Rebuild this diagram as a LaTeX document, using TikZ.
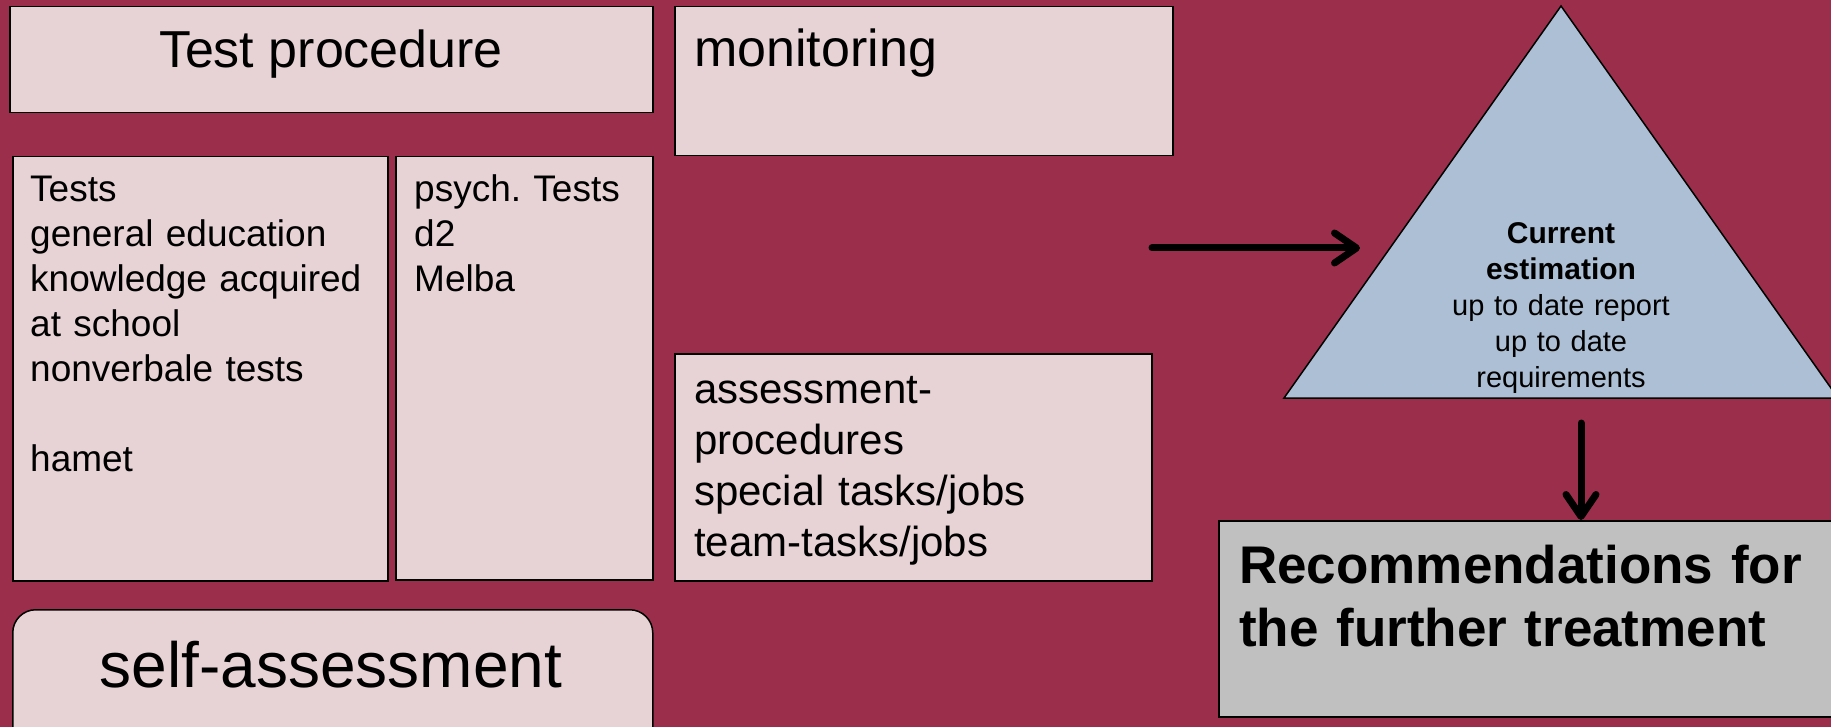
\documentclass[tikz,border=0pt]{standalone}
\usepackage{fontspec}
\setmainfont{Liberation Sans}
\usetikzlibrary{arrows.meta}
\frenchspacing

\definecolor{bgmaroon}{RGB}{155,47,75}
\definecolor{boxpink}{RGB}{231,211,214}
\definecolor{triblue}{RGB}{173,191,212}
\definecolor{recgray}{RGB}{192,192,192}

\tikzset{
  box/.style={draw=black, line width=1.5pt, fill=boxpink, inner sep=0pt, anchor=north west},
  txt/.style={inner sep=0pt, anchor=base west, align=left},
  bigarrow/.style={line width=7pt, line cap=round, -{Straight Barb[length=22pt,width=30pt,line cap=round,line join=round]}}
}

\begin{document}
\begin{tikzpicture}[x=1pt,y=-1pt]

    %% Background
    \clip (0,0) rectangle (1831,727);
    \fill[bgmaroon] (0,0) rectangle (1831,727);

    % Boxes
    \node[box, minimum width=643pt, minimum height=106pt] (tproc) at (9,6) {};
    \node[box, minimum width=498pt, minimum height=149pt] (monit) at (674,6) {};
    \node[box, minimum width=375pt, minimum height=424pt] (tests) at (12,156) {};
    \node[box, minimum width=257pt, minimum height=423pt] (psych) at (395,156) {};
    \node[box, minimum width=477pt, minimum height=227pt] (assess) at (674,353) {};
    \node[box, rounded corners=23pt, minimum width=640pt, minimum height=140pt] (selfass) at (12,609) {};
    \node[box, fill=recgray, minimum width=640pt, minimum height=196pt] (rec) at (1218,520) {};

    % Triangle
    \draw[fill=triblue, line width=1.5pt] (1561,6) -- (1284,398) -- (1838,398) -- cycle;

    % Texts
    \node[inner sep=0pt, anchor=base, font=\fontsize{52}{60}\selectfont] (tprocText) at (331,68) {Test procedure};
    \node[txt, font=\fontsize{52}{62}\selectfont] (monitText) at (694,67) {monitoring};
    \node[txt, text width=350pt, font=\fontsize{37}{45}\selectfont] (testsText) at (30,202)
        {Tests\\general education\\knowledge acquired\\at school\\nonverbale tests\\[45pt]hamet};
    \node[txt, text width=230pt, font=\fontsize{37}{45}\selectfont] (psychText) at (414,202)
        {psych. Tests\\d2\\Melba};
    \node[txt, text width=440pt, font=\fontsize{42}{51}\selectfont] (assessText) at (694,403)
        {assessment-\\procedures\\special tasks/jobs\\team-tasks/jobs};
    \node[inner sep=0pt, anchor=base, font=\fontsize{64}{76}\selectfont] (selfText) at (331,687) {self-assessment};
    \node[inner sep=0pt, anchor=base, text width=300pt, align=center, font=\fontsize{29}{36}\selectfont] (estimText) at (1561,244)
        {{\fontsize{30}{36}\selectfont\bfseries Current}\\{\fontsize{30}{36}\selectfont\bfseries estimation}\\up to date report\\up to date\\requirements};
    \node[txt, text width=590pt, font=\fontsize{53}{63}\selectfont\bfseries] (recText) at (1239,583)
        {Recommendations for\\the further treatment};

    % Arrows
    \coordinate (hStart) at (1152,248);
    \coordinate (hEnd) at (1360,248);
    \coordinate (vStart) at (1581,423);
    \draw[bigarrow] (hStart) -- (hEnd);
    \draw[bigarrow] (vStart) -- (vStart |- rec.north);

\end{tikzpicture}
\end{document}
